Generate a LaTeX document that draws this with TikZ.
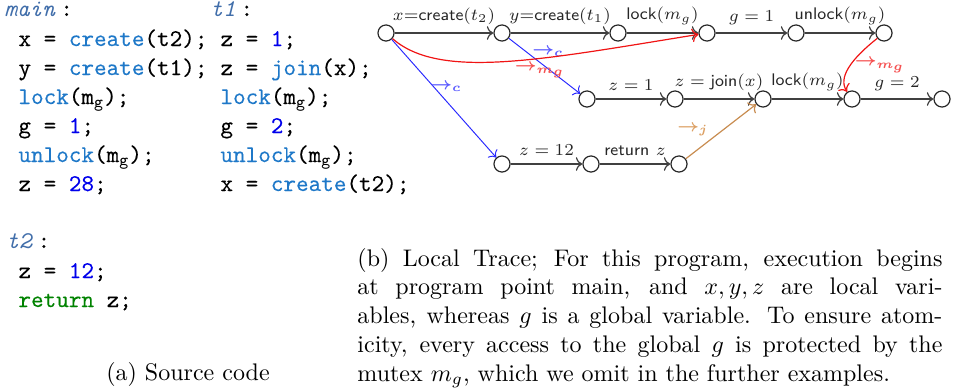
\documentclass[tikz,border=0pt]{standalone}
\usepackage{fontspec}
\usepackage{amsmath}
\newfontfamily\codefont{Latin Modern Mono}[UprightFeatures={FakeBold=0.15}]
\usetikzlibrary{arrows.meta}
\definecolor{kwc}{RGB}{30,120,200}
\definecolor{numc}{RGB}{0,0,235}
\definecolor{lblc}{RGB}{65,110,170}
\definecolor{retc}{RGB}{0,130,0}
\definecolor{jc}{RGB}{200,140,80}
\definecolor{jlc}{RGB}{220,160,100}
\definecolor{bc}{RGB}{40,40,255}
\definecolor{blc}{RGB}{90,90,255}
\definecolor{rc}{RGB}{240,20,20}
\definecolor{rlc}{RGB}{245,80,80}
\newcommand{\kwd}[1]{\textcolor{kwc}{#1}}
\newcommand{\numb}[1]{\textcolor{numc}{#1}}
\newcommand{\lbl}[1]{\textcolor{lblc}{\textit{#1}}\hspace{2pt}}
\newcommand{\mgs}{m$_{\texttt{g}}$}
\newcommand{\rel}[1]{$\boldsymbol{\rightarrow_{#1}}$}
\begin{document}
\begin{tikzpicture}[x=0.41667pt,y=-0.41667pt,
  code/.style={anchor=base west,inner sep=0pt,font=\codefont},
  tnode/.style={circle,draw=black!85,line width=0.5pt,minimum size=6.7pt,inner sep=0pt},
  edge/.style={draw=black!75,line width=0.5pt,->},
  elab/.style={above=2.2pt,inner sep=1pt,font=\scriptsize,text=black!85},
  cedge/.style={draw=bc,line width=0.4pt,->},
  clab/.style={font=\scriptsize,text=blc,inner sep=0pt},
  medge/.style={draw=rc,line width=0.5pt,->},
  mlab/.style={font=\scriptsize,text=rlc,inner sep=0pt},
  jedge/.style={draw=jc,line width=0.5pt,->},
  jlab/.style={font=\scriptsize,text=jlc,inner sep=0pt}]
\useasboundingbox (0,0) rectangle (956,391);
% ---------- source code
\node[code] (mh) at (4,16) {\lbl{main}:};
\node[code] (m1) at (18,46) {x = \kwd{create}(t2);};
\node[code] (m2) at (18,75) {y = \kwd{create}(t1);};
\node[code] (m3) at (18,104) {\kwd{lock}(\mgs);};
\node[code] (m4) at (18,133) {g = \numb{1};};
\node[code] (m5) at (18,162) {\kwd{unlock}(\mgs);};
\node[code] (m6) at (18,191) {z = \numb{28};};
\node[code] (th) at (210,16) {\lbl{t1}:};
\node[code] (t1) at (220,46) {z = \numb{1};};
\node[code] (t2) at (220,75) {z = \kwd{join}(x);};
\node[code] (t3) at (220,104) {\kwd{lock}(\mgs);};
\node[code] (t4) at (220,133) {g = \numb{2};};
\node[code] (t5) at (220,162) {\kwd{unlock}(\mgs);};
\node[code] (t6) at (220,191) {x = \kwd{create}(t2);};
\node[code] (uh) at (6,248) {\lbl{t2}:};
\node[code] (u1) at (18,278) {z = \numb{12};};
\node[code] (u2) at (18,307) {\textcolor{retc}{return} z;};
\node[anchor=base,inner sep=0pt] (capa) at (188,380) {(a) Source code};
% ---------- caption b
\node[anchor=base west,inner sep=0pt,text width=243.75pt,align=justify] (capb) at (357,266)
{(b) Local Trace; For this program, execution begins\linebreak
at program point main, and $x,y,z$ are local vari-\linebreak
ables, whereas $g$ is a global variable. To ensure atom-\linebreak
icity, every access to the global $g$ is protected by the\linebreak
mutex $m_g$, which we omit in the further examples.};
% ---------- trace graph
\node[tnode] (a0) at (386,33) {};
\node[tnode] (a1) at (502,33) {};
\node[tnode] (a2) at (618,33) {};
\node[tnode] (a3) at (707,33) {};
\node[tnode] (a4) at (796,33) {};
\node[tnode] (a5) at (884,33) {};
\node[tnode] (b0) at (587,99) {};
\node[tnode] (b1) at (675,99) {};
\node[tnode] (b2) at (763,99) {};
\node[tnode] (b3) at (852,99) {};
\node[tnode] (b4) at (942,99) {};
\node[tnode] (c0) at (502,164) {};
\node[tnode] (c1) at (591,164) {};
\node[tnode] (c2) at (679,164) {};
\draw[edge] (a0) -- node[elab] {$x$=\textsf{create}$(t_2)$} (a1);
\draw[edge] (a1) -- node[elab] {$y$=\textsf{create}$(t_1)$} (a2);
\draw[edge] (a2) -- node[elab] {\textsf{lock}$(m_g)$} (a3);
\draw[edge] (a3) -- node[elab] {$g = 1$} (a4);
\draw[edge] (a4) -- node[elab] {\textsf{unlock}$(m_g)$} (a5);
\draw[edge] (b0) -- node[elab] {$z = 1$} (b1);
\draw[edge] (b1) -- node[elab] {$z = \textsf{join}(x)$} (b2);
\draw[edge] (b2) -- node[elab] {\textsf{lock}$(m_g)$} (b3);
\draw[edge] (b3) -- node[elab] {$g = 2$} (b4);
\draw[edge] (c0) -- node[elab] {$z = 12$} (c1);
\draw[edge] (c1) -- node[elab] {\textsf{return} $z$} (c2);
\draw[cedge] (a0) -- (c0);
\draw[cedge] (a1) -- (b0);
\node[clab] (lc1) at (446,87) {\rel{c}};
\node[clab] (lc2) at (548,52) {\rel{c}};
\draw[medge] (a0) .. controls (440,80) and (540,60) .. (a3);
\draw[medge] (a5) .. controls (850,60) and (838,78) .. (b3);
\node[mlab] (lm1) at (540,71) {\rel{m_g}};
\node[mlab] (lm2) at (880,66) {\rel{m_g}};
\draw[jedge] (c2) -- (b2);
\node[jlab] (lj) at (693,130) {\rel{j}};
\end{tikzpicture}
\end{document}
